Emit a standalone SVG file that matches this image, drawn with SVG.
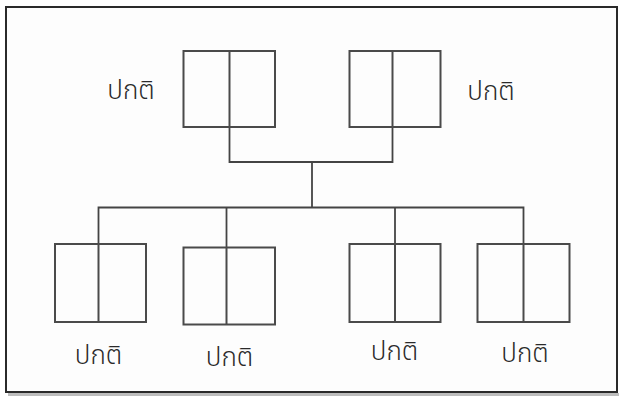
<svg xmlns="http://www.w3.org/2000/svg" width="619" height="396" viewBox="0 0 619 396">
  <style>
    .frame { fill: #fdfdfd; stroke: #2a2a2a; stroke-width: 2; }
    .box { fill: none; stroke: #4a4a4a; stroke-width: 2; }
    .link { fill: none; stroke: #444; stroke-width: 1.8; }
    .lbl { font-family: "Noto Sans Thai", "Noto Sans", "DejaVu Sans", sans-serif; font-size: 26px; font-weight: 300; fill: #2a2a2a; text-anchor: middle; }
  </style>
  <rect x="0" y="0" width="619" height="396" fill="#ffffff"/>
  <rect x="8" y="393" width="611" height="3" fill="#bdbdbd"/>
  <rect class="frame" x="6" y="7" width="611" height="385"/>

  <g id="connectors">
    <path class="link" d="M229.5 127 V162 H392.5 V127"/>
    <path class="link" d="M312 162 V207.5"/>
    <path class="link" d="M98.5 244 V207.5 H523.5 V244"/>
    <path class="link" d="M226.5 247 V207.5"/>
    <path class="link" d="M395 244 V207.5"/>
  </g>

  <g id="parent-left">
    <rect class="box" x="183.5" y="51" width="91.5" height="76"/>
    <line class="box" x1="229.5" y1="51" x2="229.5" y2="127"/>
    <text class="lbl" x="131" y="99">ปกติ</text>
  </g>
  <g id="parent-right">
    <rect class="box" x="349.5" y="51" width="91" height="76"/>
    <line class="box" x1="392.5" y1="51" x2="392.5" y2="127"/>
    <text class="lbl" x="491" y="100">ปกติ</text>
  </g>

  <g id="child-1">
    <rect class="box" x="55" y="244" width="91" height="78"/>
    <line class="box" x1="98.5" y1="244" x2="98.5" y2="322"/>
    <text class="lbl" x="98.5" y="364">ปกติ</text>
  </g>
  <g id="child-2">
    <rect class="box" x="183.5" y="247.5" width="91.5" height="77"/>
    <line class="box" x1="226.5" y1="247.5" x2="226.5" y2="324.5"/>
    <text class="lbl" x="229.5" y="366">ปกติ</text>
  </g>
  <g id="child-3">
    <rect class="box" x="349.5" y="244" width="91" height="78"/>
    <line class="box" x1="395" y1="244" x2="395" y2="322"/>
    <text class="lbl" x="394.5" y="360">ปกติ</text>
  </g>
  <g id="child-4">
    <rect class="box" x="477.5" y="244" width="92" height="78"/>
    <line class="box" x1="523.5" y1="244" x2="523.5" y2="322"/>
    <text class="lbl" x="525" y="362">ปกติ</text>
  </g>
</svg>
